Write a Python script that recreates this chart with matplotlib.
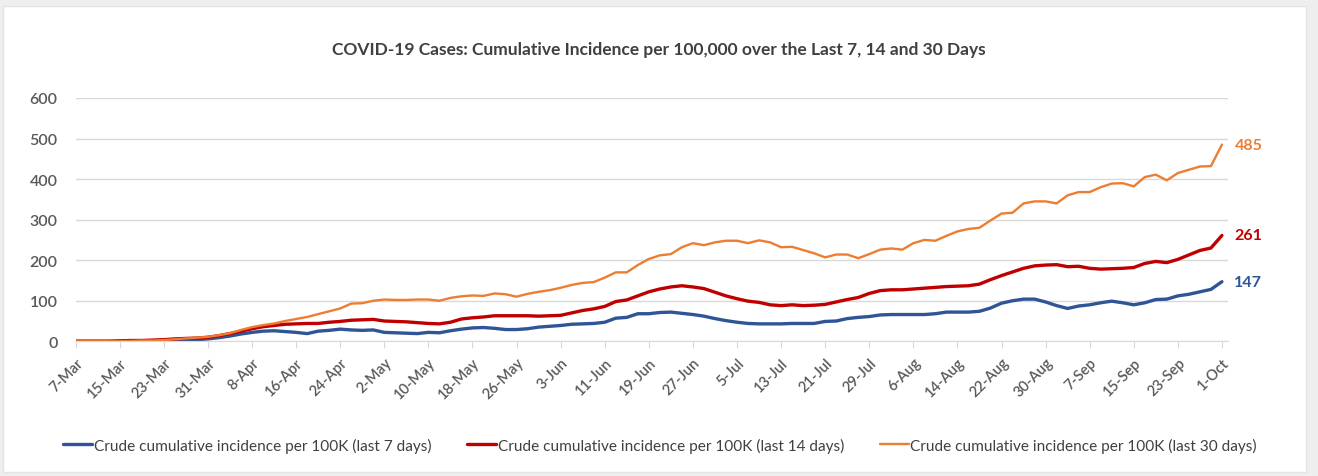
import matplotlib
matplotlib.use("Agg")
import matplotlib.pyplot as plt
import matplotlib.patches as mpatches
import numpy as np
import pandas as pd

#### Data ####
# values every 2 days starting 7-Mar-2020
dates = pd.date_range("2020-03-07", "2020-10-01", freq="2D")

last_7 = [0, 0, 0, 0, 0, 0, 1, 1, 2, 2,
          3, 4, 6, 9, 13, 18, 22, 25, 26, 24,
          22, 19, 25, 27, 30, 28, 27, 28, 22, 21,
          20, 19, 22, 21, 26, 30, 33, 34, 32, 29,
          29, 31, 35, 37, 39, 42, 43, 44, 47, 57,
          59, 68, 68, 71, 72, 69, 66, 62, 56, 51,
          47, 44, 43, 43, 43, 44, 44, 44, 49, 50,
          56, 59, 61, 65, 66, 66, 66, 66, 68, 72,
          72, 72, 74, 82, 94, 100, 104, 104, 97, 88,
          81, 87, 90, 95, 99, 95, 90, 95, 103, 104,
          112, 116, 122, 128, 147]

last_14 = [0, 0, 0, 0, 1, 2, 2, 3, 4, 6,
           7, 8, 10, 14, 19, 25, 31, 36, 39, 42,
           43, 44, 44, 47, 49, 52, 53, 54, 50, 49,
           48, 46, 44, 43, 47, 55, 58, 60, 63, 63,
           63, 63, 62, 63, 64, 70, 76, 80, 86, 98,
           102, 112, 122, 129, 134, 137, 134, 130, 121, 112,
           105, 99, 96, 90, 88, 90, 88, 89, 91, 97,
           103, 108, 118, 125, 127, 127, 129, 131, 133, 135,
           136, 137, 141, 152, 162, 171, 180, 186, 188, 189,
           184, 185, 180, 178, 179, 180, 182, 192, 197, 194,
           202, 213, 224, 230, 261]

last_30 = [0, 0, 0, 0, 0, 1, 2, 2, 3, 5,
           7, 9, 11, 15, 20, 28, 35, 40, 44, 50,
           55, 60, 67, 74, 81, 93, 94, 100, 103, 102,
           102, 103, 103, 100, 107, 111, 113, 112, 118, 116,
           110, 117, 122, 126, 132, 139, 144, 146, 157, 170,
           170, 188, 203, 212, 215, 232, 242, 237, 244, 248,
           248, 242, 249, 244, 232, 233, 225, 217, 207, 214,
           214, 205, 215, 226, 229, 226, 242, 250, 248, 260,
           271, 277, 280, 298, 315, 317, 340, 345, 345, 340,
           360, 368, 368, 380, 389, 390, 382, 405, 411, 397,
           415, 423, 431, 432, 485]

labels = ["Crude cumulative incidence per 100K (last 7 days)",
          "Crude cumulative incidence per 100K (last 14 days)",
          "Crude cumulative incidence per 100K (last 30 days)"]
colors = ["#2f5597", "#c00000", "#ed7d31"]
widths = [2.4, 2.4, 1.7]

plt.rcParams["font.family"] = ["Lato", "DejaVu Sans"]

#### Plot ####
fig = plt.figure(figsize=(13.18, 4.77), dpi=100, facecolor="#eeeeee")
# white chart area with thin grey frame around it
bg = mpatches.Rectangle((3 / 1318, 4 / 477), 1303 / 1318, 466 / 477,
                        transform=fig.transFigure, facecolor="white",
                        edgecolor="#e4e4e4", lw=1, zorder=-10)
fig.patches.append(bg)

ax = fig.add_axes([75.7 / 1318, 134.7 / 477, 1152.3 / 1318, 243.3 / 477])
ax.set_facecolor("none")

series = [last_7, last_14, last_30]
for vals, lab, c, w in zip(series, labels, colors, widths):
    ax.plot(dates, vals, color=c, lw=w, label=lab, solid_capstyle="round")

x0 = pd.Timestamp("2020-03-07")
x1 = pd.Timestamp("2020-10-01")
ax.set_xlim(x0, x1 + pd.Timedelta(days=1.1))
ax.set_ylim(0, 600)

ax.set_yticks(np.arange(0, 601, 100))
ax.yaxis.grid(True, color="#d9d9d9", lw=1)
ax.set_axisbelow(True)
ax.tick_params(axis="y", length=0, pad=13, labelsize=11.5, labelcolor="#595959")
for t in ax.get_yticklabels():
    t.set_fontweight("semibold")

ticks = pd.date_range(x0, x1, freq="8D")
ax.set_xticks(ticks)
ax.set_xticklabels([f"{d.day}-{d.strftime('%b')}" for d in ticks],
                   rotation=45, ha="right", rotation_mode="anchor",
                   fontweight="semibold")
ax.tick_params(axis="x", length=5, color="#d9d9d9", labelsize=10.5,
               labelcolor="#595959", pad=5)

for s in ["top", "right", "left"]:
    ax.spines[s].set_visible(False)
ax.spines["bottom"].set_color("#d9d9d9")

# end-of-line value labels
for vals, c in zip(series, colors):
    ax.annotate(f"{vals[-1]}", xy=(dates[-1], vals[-1]), xytext=(9, 0),
                textcoords="offset points", va="center", ha="left",
                color=c, fontsize=11.5, fontweight="bold")

fig.text(0.5, 1 - 50 / 477,
         "COVID-19 Cases: Cumulative Incidence per 100,000 over the Last 7, 14 and 30 Days",
         ha="center", va="center", fontsize=12.5, fontweight="bold", color="#404040")

fig.legend(loc="center", bbox_to_anchor=(660 / 1318, 1 - 446 / 477), ncol=3,
           frameon=False, fontsize=11.1, handlelength=1.9, handletextpad=0.1,
           columnspacing=2.3, labelcolor="#404040")

fig.savefig("out.png", dpi=100, facecolor=fig.get_facecolor())
